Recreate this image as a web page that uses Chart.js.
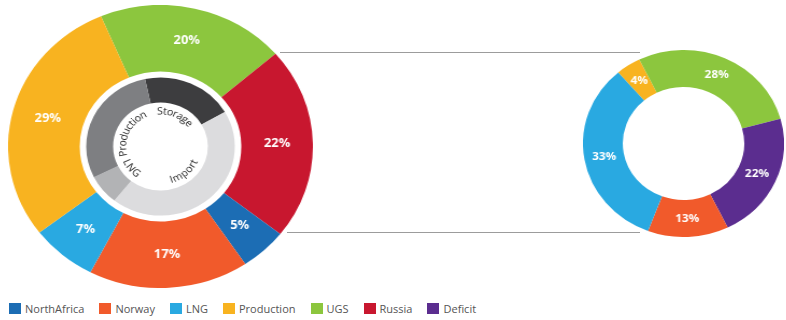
<!DOCTYPE html>
<html><head><meta charset="utf-8">
<script src="https://cdn.jsdelivr.net/npm/chart.js@4.4.1/dist/chart.umd.min.js"></script>
<style>
html,body{margin:0;padding:0;background:#fff;width:786px;height:320px;overflow:hidden;font-family:"Open Sans",sans-serif;}
#wrapL{position:absolute;left:19px;top:5px;width:283px;height:283px;transform:scaleX(1.077);transform-origin:50% 50%;}
#wrapR{position:absolute;left:590px;top:50px;width:187px;height:187px;transform:scaleX(1.075);transform-origin:50% 50%;}
.conn{position:absolute;height:0;border-top:1px solid #9c9c9c;}
#legend{position:absolute;left:9px;top:302px;display:flex;align-items:center;font-size:11px;color:#555;line-height:13px;}
#legend .it{display:flex;align-items:center;margin-right:15px;}
#legend .sw{width:12px;height:11px;margin-right:4px;}
</style></head>
<body>
<div class="conn" style="left:280px;top:52px;width:360px;"></div>
<div class="conn" style="left:287px;top:232px;width:353px;"></div>
<div id="wrapL"><canvas id="cL" width="283" height="283"></canvas></div>
<div id="wrapR"><canvas id="cR" width="187" height="187"></canvas></div>
<div id="legend"></div>
<script>
// ---- data ----
const outerCategories = ['UGS','Russia','NorthAfrica','Norway','LNG','Production'];
const outerValues = [20,22,5,17,7,29];
const innerCategories = ['Storage','Import','LNG','Production'];
const innerValues = [20,44,7,29];
const rightCategories = ['Production','UGS','Deficit','Norway','LNG'];
const rightValues = [4,28,22,13,33];
const legendCategories = ['NorthAfrica','Norway','LNG','Production','UGS','Russia','Deficit'];

// ---- styles ----
const colorMap = {NorthAfrica:'#1c6db4', Norway:'#f15a2b', LNG:'#29a9e1', Production:'#f8b320', UGS:'#8cc63e', Russia:'#c8172f', Deficit:'#5b2d8f'};
const innerColors = ['#3d3d3f','#dcdcde','#b2b3b5','#7e7f82'];

const pctPlugin = {
  id:'pct',
  afterDatasetsDraw(chart){
    const ctx = chart.ctx;
    chart.data.datasets.forEach((ds,di)=>{
      if(!ds.pctLabels && !ds.curvedLabels) return;
      const meta = chart.getDatasetMeta(di);
      meta.data.forEach((arc,i)=>{
        const p = arc.getProps(['x','y','startAngle','endAngle','innerRadius','outerRadius'],true);
        const a = (p.startAngle+p.endAngle)/2;
        if(ds.pctLabels){
          const r = (p.innerRadius+p.outerRadius)/2;
          ctx.save();
          ctx.fillStyle='#fff';
          ctx.font = ds.pctFont;
          ctx.textAlign='center'; ctx.textBaseline='middle';
          ctx.fillText(ds.data[i]+'%', p.x+Math.cos(a)*r, p.y+Math.sin(a)*r);
          ctx.restore();
        } else {
          const txt = ds.labelsText[i];
          const r = p.innerRadius - 9;
          ctx.save();
          ctx.fillStyle='#1e1e1e';
          ctx.font='10px "Open Sans", sans-serif';
          ctx.textAlign='center'; ctx.textBaseline='middle';
          const widths = [...txt].map(c=>ctx.measureText(c).width);
          const total = widths.reduce((s,w)=>s+w,0);
          const span = total/r;
          const flip = Math.sin(a) > 0.05;
          let cum = 0;
          [...txt].forEach((c,k)=>{
            const off = (cum + widths[k]/2)/r;
            const ang = flip ? (a + span/2 - off) : (a - span/2 + off);
            ctx.save();
            ctx.translate(p.x+Math.cos(ang)*r, p.y+Math.sin(ang)*r);
            ctx.rotate(flip ? ang - Math.PI/2 : ang + Math.PI/2);
            ctx.fillText(c,0,0);
            ctx.restore();
            cum += widths[k];
          });
          ctx.restore();
        }
      });
    });
  }
};

const baseOpts = {
  responsive:false, animation:false, events:[],
  plugins:{legend:{display:false}, tooltip:{enabled:false}},
  layout:{padding:0}
};

new Chart(document.getElementById('cL'),{
  type:'doughnut',
  data:{labels:outerCategories, datasets:[
    {data:outerValues, backgroundColor:outerCategories.map(c=>colorMap[c]), borderWidth:0, weight:66.5, rotation:-23, pctLabels:true, pctFont:'bold 12px "Open Sans", sans-serif'},
    {data:[1], backgroundColor:['rgba(255,255,255,0)'], borderWidth:0, weight:6},
    {data:innerValues, backgroundColor:innerColors, borderWidth:0, weight:25, rotation:-12, curvedLabels:true, labelsText:innerCategories}
  ]},
  options:Object.assign({}, baseOpts, {cutout:'31.1%'}),
  plugins:[pctPlugin]
});

new Chart(document.getElementById('cR'),{
  type:'doughnut',
  data:{labels:rightCategories, datasets:[
    {data:rightValues, backgroundColor:rightCategories.map(c=>colorMap[c]), borderWidth:0, rotation:-40.5, pctLabels:true, pctFont:'bold 11px "Open Sans", sans-serif'}
  ]},
  options:Object.assign({}, baseOpts, {cutout:'60.4%'}),
  plugins:[pctPlugin]
});

const leg = document.getElementById('legend');
legendCategories.forEach(c=>{
  const it = document.createElement('div'); it.className='it';
  const sw = document.createElement('div'); sw.className='sw'; sw.style.background=colorMap[c];
  const tx = document.createElement('span'); tx.textContent=c;
  it.appendChild(sw); it.appendChild(tx); leg.appendChild(it);
});
</script>
</body></html>
